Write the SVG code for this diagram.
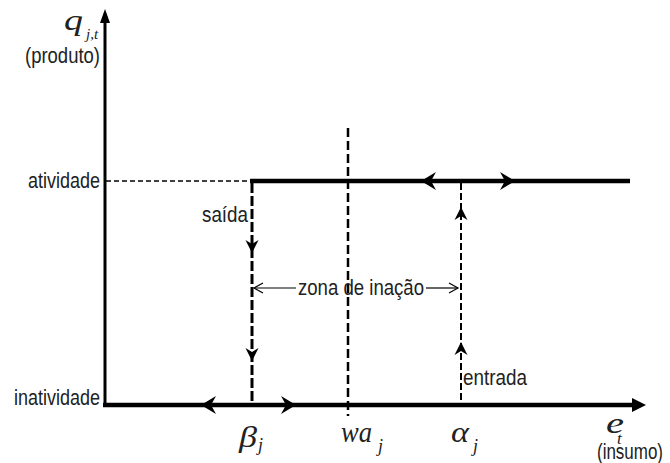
<svg xmlns="http://www.w3.org/2000/svg" width="670" height="463" viewBox="0 0 670 463">
<style>
.lbl{font-family:"Liberation Sans",Arial,sans-serif;font-size:22px;fill:#222}
.m{font-family:"Liberation Serif","Times New Roman",serif;font-style:italic;font-weight:normal;fill:#222}
.ax{stroke:#000;stroke-width:3;fill:none}
.thick{stroke:#000;stroke-width:4.5;fill:none}
.dash{stroke:#000;fill:none}
</style>
<defs>
<path id="ah" d="M0,0 L-15,-9 L-10,0 L-15,9 Z" fill="#000"/>
<path id="ahs" d="M0,0 L-13,-6.5 L-9,0 L-13,6.5 Z" fill="#000"/>
<path id="open" d="M9,-5 L0,0 L9,5" fill="none" stroke="#000" stroke-width="1.2"/>
</defs>
<rect width="670" height="463" fill="#fff"/>
<g id="connectors">
  <line class="ax" x1="105" y1="407" x2="105" y2="20"/>
  <path d="M105,9 L110,23 L100,23 Z" fill="#000"/>
  <line class="thick" x1="103" y1="405" x2="636" y2="405"/>
  <path d="M646,405 L632,398 L632,412 Z" fill="#000"/>
  <line class="dash" stroke-width="1.3" stroke-dasharray="5,3" x1="106" y1="181" x2="250" y2="181"/>
  <line class="thick" stroke-width="5" x1="250" y1="181" x2="630" y2="181"/>
  <use href="#ah" transform="translate(421,181) rotate(180)"/>
  <use href="#ah" transform="translate(515,181)"/>
  <use href="#ah" transform="translate(201,405) rotate(180)"/>
  <use href="#ah" transform="translate(296,405)"/>
  <line class="dash" stroke-width="3" stroke-dasharray="10,3" x1="252" y1="183" x2="252" y2="405"/>
  <use href="#ahs" transform="translate(252,253) rotate(90)"/>
  <use href="#ahs" transform="translate(252,361) rotate(90)"/>
  <line class="dash" stroke-width="2.5" stroke-dasharray="9,4" x1="348" y1="128" x2="348" y2="416"/>
  <line class="dash" stroke-width="2" stroke-dasharray="7,3" x1="461" y1="183" x2="461" y2="405"/>
  <use href="#ahs" transform="translate(461,207) rotate(-90)"/>
  <use href="#ahs" transform="translate(461,342) rotate(-90)"/>
  <line stroke="#000" stroke-width="1.2" x1="254" y1="288" x2="296" y2="288"/>
  <line stroke="#000" stroke-width="1.2" x1="426" y1="288" x2="458" y2="288"/>
  <use href="#open" transform="translate(254,288)"/>
  <use href="#open" transform="translate(458,288) rotate(180)"/>
</g>
<g id="labels">
  <text class="lbl" x="28" y="188" textLength="72" lengthAdjust="spacingAndGlyphs">atividade</text>
  <text class="lbl" x="14" y="405" textLength="86" lengthAdjust="spacingAndGlyphs">inatividade</text>
  <text class="lbl" x="25" y="63" textLength="75" lengthAdjust="spacingAndGlyphs">(produto)</text>
  <text class="lbl" x="202" y="222" textLength="46" lengthAdjust="spacingAndGlyphs">saída</text>
  <text class="lbl" x="298" y="295" textLength="126" lengthAdjust="spacingAndGlyphs">zona de inação</text>
  <text class="lbl" x="463" y="385" textLength="64" lengthAdjust="spacingAndGlyphs">entrada</text>
  <text class="lbl" x="597" y="459" textLength="66" lengthAdjust="spacingAndGlyphs">(insumo)</text>
</g>
<g id="math">
  <text class="m" x="64" y="30" font-size="30" textLength="19" lengthAdjust="spacingAndGlyphs">q</text>
  <text class="m" x="86" y="39" font-size="15">j,t</text>
  <text class="m" x="239" y="447" font-size="30" textLength="18" lengthAdjust="spacingAndGlyphs">β</text>
  <text class="m" x="258" y="451" font-size="18">j</text>
  <text class="m" x="341" y="442" font-size="30" textLength="31" lengthAdjust="spacingAndGlyphs">wa</text>
  <text class="m" x="378" y="452" font-size="18">j</text>
  <text class="m" x="451" y="442" font-size="30" textLength="18" lengthAdjust="spacingAndGlyphs">α</text>
  <text class="m" x="473" y="452" font-size="18">j</text>
  <text class="m" x="606" y="433" font-size="30" textLength="18" lengthAdjust="spacingAndGlyphs">e</text>
  <text class="m" x="617" y="444" font-size="17">t</text>
</g>
</svg>
